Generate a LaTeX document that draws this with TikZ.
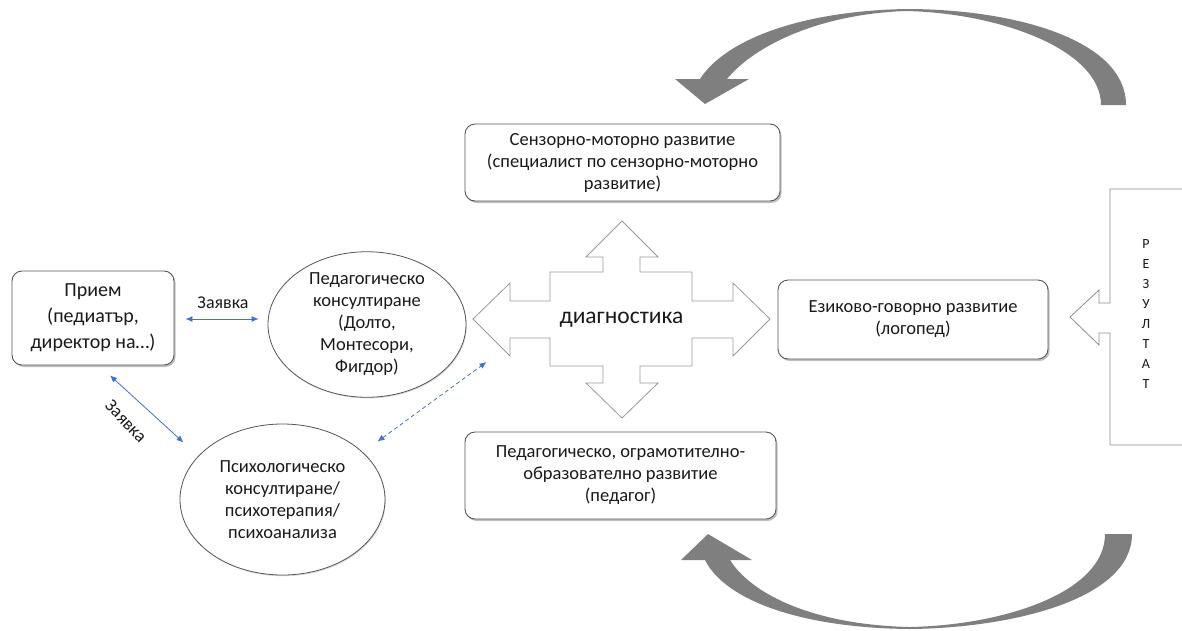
\documentclass[tikz,border=0pt]{standalone}
\usepackage{fontspec}
\setmainfont{Carlito}
\usetikzlibrary{shapes.geometric,shadows,calc,arrows.meta}
\definecolor{linkblue}{HTML}{4472C4}
\definecolor{boxline}{HTML}{555555}
\definecolor{arcgray}{HTML}{7F7F7F}
\definecolor{txt}{HTML}{1A1A1A}
\tikzset{
  rbox/.style={draw=boxline, line width=0.9pt, rounded corners=10pt, fill=white,
    drop shadow={shadow xshift=1.6pt, shadow yshift=-2pt, fill=black!45, opacity=0.55},
    align=center, inner sep=0pt, text=txt, font=\fontsize{18.5}{22}\selectfont},
  oval/.style={ellipse, draw=boxline, line width=0.8pt, fill=white,
    drop shadow={shadow xshift=0.8pt, shadow yshift=-1.2pt, fill=black!30, opacity=0.5},
    align=center, inner sep=0pt, text=txt, font=\fontsize{18.5}{22}\selectfont},
  link/.style={linkblue, line width=0.8pt, {Latex[length=7pt,width=6pt]}-{Latex[length=7pt,width=6pt]}},
  outlineshape/.style={draw=black!40, line width=0.8pt, fill=white},
  arcshape/.style={fill=arcgray, draw=none},
  lbl/.style={text=txt, font=\fontsize{18}{21}\selectfont, inner sep=0pt}
}
\begin{document}
\begin{tikzpicture}[x=1pt,y=-1pt]
\useasboundingbox (0,0) rectangle (1182,630);

% curved feedback arrows
\path[arcshape] (1126,105) .. controls (1126,40) and (1015,9) .. (906,9)
  .. controls (800,11) and (725,40) .. (700,79) -- (675,79) -- (705,104) -- (749,79) -- (727,79)
  .. controls (755,45) and (820,14) .. (906,11)
  .. controls (1000,13) and (1101,50) .. (1101,105) -- cycle;
\path[arcshape] (1132,534) .. controls (1132,600) and (1010,628) .. (910,629)
  .. controls (800,628) and (725,600) .. (705,560) -- (681,560) -- (708,534) -- (752,560) -- (730,560)
  .. controls (752,595) and (815,625) .. (910,627)
  .. controls (1005,625) and (1105,592) .. (1105,534) -- cycle;

% result callout
\path[fill=white] (1190,189) -- (1110,189) -- (1110,303) -- (1099,303) -- (1099,290) -- (1070,317)
  -- (1099,345) -- (1099,333) -- (1110,333) -- (1110,445) -- (1190,445) -- cycle;
\draw[draw=black!45, line width=0.8pt] (1190,189) -- (1110,189) -- (1110,303) -- (1099,303) -- (1099,290) -- (1070,317)
  -- (1099,345) -- (1099,333) -- (1110,333) -- (1110,445) -- (1190,445);
\node[text=txt, font=\fontsize{14}{20}\selectfont, align=center, inner sep=0pt] (rez) at (1146,314)
  {Р\\Е\\З\\У\\Л\\Т\\А\\Т};

% central four-way arrow
\draw[outlineshape] (473,319) -- (510,283) -- (510,301) -- (550,301) -- (550,272) -- (603,272)
  -- (603,257) -- (586,257) -- (622,221) -- (658,257) -- (640,257) -- (640,272) -- (692,272)
  -- (692,301) -- (733,301) -- (733,283) -- (770,319) -- (733,356) -- (733,338) -- (692,338)
  -- (692,366) -- (640,366) -- (640,383) -- (658,383) -- (622,418) -- (586,383) -- (603,383)
  -- (603,366) -- (550,366) -- (550,338) -- (510,338) -- (510,356) -- cycle;
\node[text=txt, font=\fontsize{23.5}{25}\selectfont, inner sep=0pt] (diag) at (621.5,320) {диагностика};

% nodes
\node[rbox, minimum width=162pt, minimum height=94pt, font=\fontsize{20}{26}\selectfont] (priem) at (93,318)
  {Прием\\(педиатър,\\директор на…)};
\node[oval, minimum width=198pt, minimum height=139pt] (ped) at (367,324.5)
  {Педагогическо\\консултиране\\(Долто,\\Монтесори,\\Фигдор)};
\node[oval, minimum width=205pt, minimum height=151pt] (psych) at (282.5,499.5)
  {Психологическо\\консултиране/\\психотерапия/\\психоанализа};
\node[rbox, minimum width=315pt, minimum height=77pt] (sens) at (622.5,162.5)
  {Сензорно-моторно развитие\\(специалист по сензорно-моторно\\развитие)};
\node[rbox, minimum width=270pt, minimum height=79pt] (lang) at (913,319.5)
  {Езиково-говорно развитие\\(логопед)};
\node[rbox, minimum width=311pt, minimum height=87pt] (edu) at (620.5,475.5)
  {Педагогическо, ограмотително-\\образователно развитие\\(педагог)};

% connectors
\draw[link] ($(priem.east)+(11,1)$) -- ($(ped.west)+(-9,-5.5)$);
\node[lbl] (z1) at (223,303) {Заявка};
\draw[link] ($(priem.south)+(17,10)$) -- ($(psych.center)+(-99,-57)$);
\node[lbl, rotate=-46] (z2) at (126,421) {Заявка};
\draw[link, dashed, dash pattern=on 4pt off 3pt] ($(psych.center)+(95,-58)$) -- ($(diag.center)+(-135,42)$);
\end{tikzpicture}
\end{document}
